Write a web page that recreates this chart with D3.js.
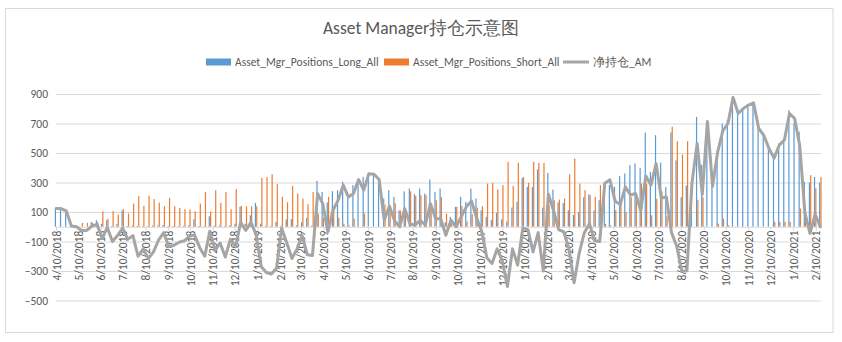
<!DOCTYPE html>
<html><head><meta charset="utf-8">
<script src="https://cdn.jsdelivr.net/npm/d3@7"></script>
<style>
html,body{margin:0;padding:0;background:#fff;}
svg text{font-family: Calibri, Carlito, "Liberation Sans", Arial, sans-serif; fill:#595959;}
</style></head><body>
<svg id="chart" width="842" height="342"></svg>
<script>
// Weekly report dates (Tuesdays), starting from the first report
const firstWeek = "2018-04-10";

const longAll = [
 118,118,95,5,0,0,0,33,44,20,
 45,5,20,110,5,8,6,4,3,10,
 8,12,6,5,4,6,10,51,5,4,
 71,6,8,5,10,21,135,20,78,162,
 21,6,5,33,8,50,51,10,30,60,
 8,311,236,165,241,248,305,214,282,305,
 338,350,350,315,191,248,203,112,240,259,
 221,259,225,320,236,259,30,67,135,203,
 169,259,191,110,67,45,94,50,35,130,
 170,330,270,270,388,130,365,252,165,160,
 112,80,100,200,220,110,180,300,282,270,
 345,361,417,429,399,639,372,621,435,270,
 640,450,200,280,300,745,420,711,282,485,
 700,723,829,761,797,820,829,678,621,553,
 485,564,571,791,701,644,304,300,338,300
];

const shortAll = [
 0,0,0,0,0,26,26,25,30,105,
 55,107,83,119,90,157,207,142,211,187,
 164,139,196,139,128,119,117,105,157,236,
 103,248,162,236,119,255,142,139,139,139,
 331,338,356,289,203,166,277,225,191,153,
 236,89,60,203,130,60,20,10,55,0,
 90,0,0,0,150,110,160,110,120,240,
 210,215,215,160,180,200,89,20,135,140,
 35,85,130,139,293,297,252,282,440,277,
 433,338,297,440,433,433,145,180,184,191,
 356,463,293,248,214,203,282,20,10,112,
 150,100,200,200,293,293,78,190,240,70,
 678,580,490,580,0,180,200,0,0,21,
 55,10,0,0,0,0,0,0,0,0,
 33,33,33,33,0,123,100,350,260,338
];

const netAM = [
 123,123,108,5,0,-25,-25,5,15,-80,
 -5,-100,-60,-10,-85,-60,-200,-150,-215,-170,
 -90,-40,-135,-125,-105,-95,-65,-55,-140,-200,
 -30,-160,-110,-205,-85,-135,30,-25,30,-50,
 -270,-310,-320,-280,-10,-110,-215,-150,-60,-190,
 -195,225,157,-35,112,180,282,202,225,320,
 248,360,356,320,44,140,40,0,123,20,
 10,44,10,157,55,55,-58,44,0,67,
 135,175,60,-30,-210,-250,-150,-230,-405,-150,
 -260,-10,-20,-170,-40,-300,220,110,-20,-35,
 -150,-380,-180,-40,20,-95,-100,295,318,175,
 150,270,215,225,110,345,282,428,195,202,
 -40,-130,-300,-300,300,565,220,714,275,508,
 650,700,877,768,802,825,840,666,620,530,
 465,553,587,768,734,550,95,-45,85,0
];

const yTicks = [-500,-300,-100,100,300,500,700,900];
const xTickLabels = [
 "4/10/2018","5/10/2018","6/10/2018","7/10/2018","8/10/2018","9/10/2018",
 "10/10/2018","11/10/2018","12/10/2018","1/10/2019","2/10/2019","3/10/2019",
 "4/10/2019","5/10/2019","6/10/2019","7/10/2019","8/10/2019","9/10/2019",
 "10/10/2019","11/10/2019","12/10/2019","1/10/2020","2/10/2020","3/10/2020",
 "4/10/2020","5/10/2020","6/10/2020","7/10/2020","8/10/2020","9/10/2020",
 "10/10/2020","11/10/2020","12/10/2020","1/10/2021","2/10/2021"
];
const seriesNames = ["Asset_Mgr_Positions_Long_All","Asset_Mgr_Positions_Short_All","净持仓_AM"];
const colors = {long:"#5B9BD5", short:"#ED7D31", net:"#A5A5A5"};

const parseIso = d3.timeParse("%Y-%m-%d");
const parseMdy = d3.timeParse("%m/%d/%Y");
const start = parseIso(firstWeek);
const rows = netAM.map((v,i)=>({
  date: d3.timeDay.offset(start, 7*i),
  long: longAll[i], short: shortAll[i], net: v
}));

const svg = d3.select("#chart");
const plot = {left:56, right:821, top:94, bottom:300.5};

// chart frame
svg.append("rect").attr("x",5.5).attr("y",8.5).attr("width",827.5).attr("height",324)
  .attr("fill","#fff").attr("stroke","#d9d9d9").attr("stroke-width",1);

const lastDate = d3.timeDay.offset(rows[rows.length-1].date, 1);
const x = d3.scaleTime().domain([start, lastDate]).range([plot.left, plot.right]);
const y = d3.scaleLinear().domain([-500, 900]).range([plot.bottom, plot.top]);

// horizontal gridlines and value labels
const yAxis = d3.axisLeft(y).tickValues(yTicks).tickSize(-(plot.right-plot.left)).tickPadding(8)
  .tickFormat(d3.format("d"));
const gy = svg.append("g").attr("transform",`translate(${plot.left},0)`).call(yAxis);
gy.select(".domain").remove();
gy.selectAll(".tick line").attr("stroke","#d9d9d9").attr("stroke-width",1);
gy.selectAll(".tick text").attr("font-size",11.5).style("fill","#595959");

// bars: long on the left of each date, short on the right
const bw = 1.2;
svg.append("g").selectAll("rect").data(rows).join("rect")
  .attr("x", d=>x(d.date)-bw).attr("width", bw)
  .attr("y", d=>Math.min(y(d.long), y(0))).attr("height", d=>Math.abs(y(d.long)-y(0)))
  .attr("fill", colors.long);
svg.append("g").selectAll("rect").data(rows).join("rect")
  .attr("x", d=>x(d.date)+0.1).attr("width", bw)
  .attr("y", d=>Math.min(y(d.short), y(0))).attr("height", d=>Math.abs(y(d.short)-y(0)))
  .attr("fill", colors.short);

// date axis sitting on zero
const tickDates = xTickLabels.map(parseMdy);
const xAxis = d3.axisBottom(x).tickValues(tickDates).tickSize(4).tickPadding(3)
  .tickFormat((d,i)=>xTickLabels[i]);
const gx = svg.append("g").attr("transform",`translate(0,${y(0)})`).call(xAxis);
gx.select(".domain").attr("stroke","#d9d9d9").attr("d",`M${plot.left},0.5H${plot.right}`);
gx.selectAll(".tick line").attr("stroke","#d9d9d9");
gx.selectAll(".tick text").attr("font-size",11.5).style("fill","#595959")
  .attr("text-anchor","end").attr("transform","rotate(-90)")
  .attr("x",-4).attr("y",0).attr("dy","0.35em");

// net position line
const line = d3.line().x(d=>x(d.date)).y(d=>y(d.net));
svg.append("path").datum(rows).attr("d", line).attr("fill","none")
  .attr("stroke", colors.net).attr("stroke-width",3).attr("stroke-linejoin","round").attr("stroke-linecap","round");

// title
svg.append("text").attr("x",421).attr("y",34).attr("text-anchor","middle")
  .attr("font-size",17.5).text("Asset Manager持仓示意图");

// legend
const lg = svg.append("g").attr("transform","translate(0,62)");
lg.append("rect").attr("x",206).attr("y",-3.5).attr("width",25).attr("height",7).attr("fill",colors.long);
lg.append("text").attr("x",235).attr("y",0).attr("dy","0.35em").attr("font-size",11.5).text(seriesNames[0]);
lg.append("rect").attr("x",384).attr("y",-3.5).attr("width",25).attr("height",7).attr("fill",colors.short);
lg.append("text").attr("x",413).attr("y",0).attr("dy","0.35em").attr("font-size",11.5).text(seriesNames[1]);
lg.append("line").attr("x1",563).attr("x2",589).attr("y1",0).attr("y2",0).attr("stroke",colors.net).attr("stroke-width",3);
lg.append("text").attr("x",593).attr("y",0).attr("dy","0.35em").attr("font-size",11.5).text(seriesNames[2]);
</script>
</body></html>
